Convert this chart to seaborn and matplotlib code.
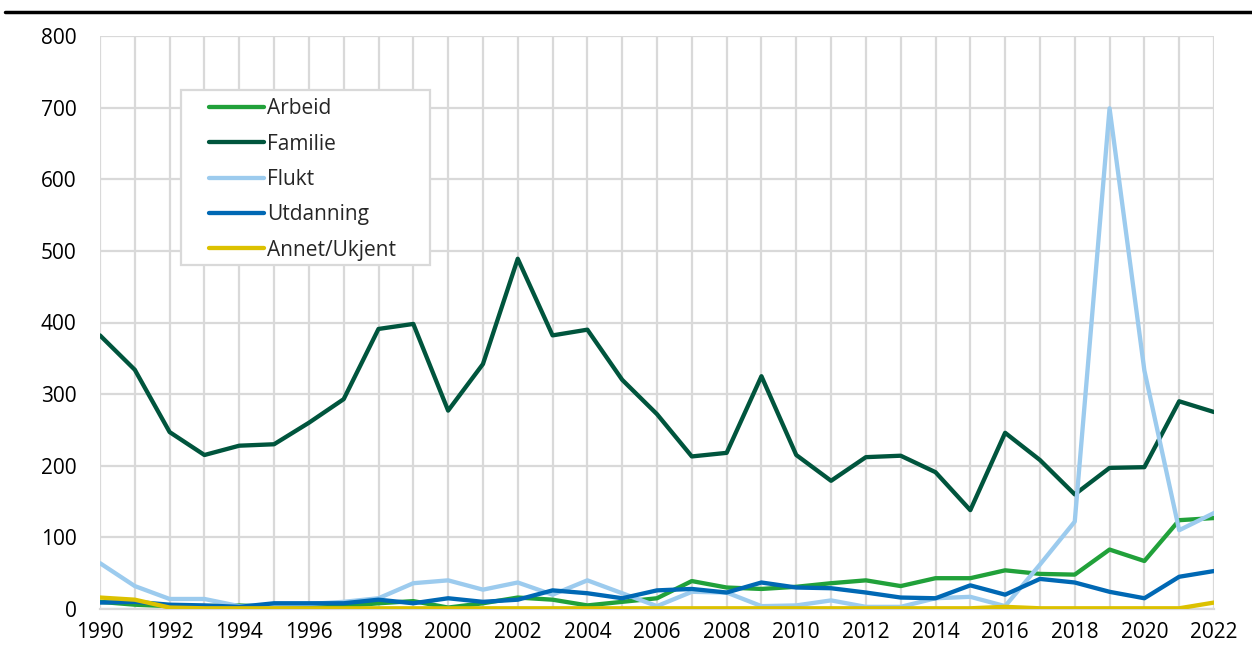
import numpy as np
import pandas as pd
import matplotlib
matplotlib.use("Agg")
import matplotlib.pyplot as plt
from matplotlib.patches import Rectangle
import seaborn as sns

years = list(range(1990, 2023))

arbeid = [10, 6, 4, 4, 5, 3, 2, 4, 8, 11, 2, 8, 16, 13, 5, 10, 15, 39, 30, 28, 31, 36, 40, 32, 43, 43, 54, 49, 48, 83, 67, 124, 127]
familie = [382, 334, 247, 215, 228, 230, 260, 293, 391, 398, 277, 342, 489, 382, 390, 320, 272, 213, 218, 325, 215, 179, 212, 214, 191, 138, 246, 208, 160, 197, 198, 290, 275]
flukt = [64, 32, 14, 14, 4, 6, 7, 10, 15, 36, 40, 27, 37, 20, 40, 22, 4, 24, 23, 4, 5, 12, 3, 3, 15, 17, 4, 62, 122, 699, 333, 110, 134]
utdanning = [9, 10, 6, 5, 3, 8, 8, 8, 13, 8, 15, 10, 13, 26, 22, 15, 26, 28, 23, 37, 30, 29, 23, 16, 15, 33, 20, 42, 37, 24, 15, 45, 53]
annet = [16, 13, 2, 1, 1, 1, 1, 1, 1, 1, 1, 1, 1, 1, 1, 1, 1, 1, 1, 1, 1, 1, 1, 1, 1, 1, 3, 1, 1, 1, 1, 1, 9]

series_names = ["Arbeid", "Familie", "Flukt", "Utdanning", "Annet/Ukjent"]
series_values = [arbeid, familie, flukt, utdanning, annet]
colors = ["#21a13a", "#00553d", "#9ccbee", "#0068b4", "#dcc100"]

y_ticks = [0, 100, 200, 300, 400, 500, 600, 700, 800]
x_ticks = list(range(1990, 2023, 2))

rows = []
for name, vals in zip(series_names, series_values):
    for yr, v in zip(years, vals):
        rows.append({"År": yr, "Antall": v, "Grunn": name})
df = pd.DataFrame(rows)

sns.set_theme(style="white")
plt.rcParams["font.family"] = ["Open Sans", "DejaVu Sans"]

W, H = 1252, 653
fig = plt.figure(figsize=(W / 100, H / 100), dpi=100)
ax = fig.add_axes([100 / W, 1 - 609 / H, 1114 / W, 573 / H])

sns.lineplot(data=df, x="År", y="Antall", hue="Grunn", hue_order=series_names,
             palette=colors, linewidth=3.1, ax=ax, legend=True, zorder=3)

ax.set_xlim(1990, 2022)
ax.set_ylim(0, 800)
ax.set_xticks(x_ticks)
ax.set_xticks(years, minor=True)
ax.set_yticks(y_ticks)
ax.set_xlabel("")
ax.set_ylabel("")
ax.grid(True, which="both", axis="x", color="#d9d9d9", linewidth=1.6, zorder=0)
ax.grid(True, which="major", axis="y", color="#d9d9d9", linewidth=1.6, zorder=0)
ax.set_axisbelow(True)
for s in ax.spines.values():
    s.set_visible(False)
ax.spines["bottom"].set_visible(True)
ax.spines["bottom"].set_color("#d9d9d9")
ax.spines["bottom"].set_linewidth(1.6)
ax.tick_params(axis="both", which="both", length=0, labelsize=15, colors="black")
ax.tick_params(axis="x", pad=9)
ax.tick_params(axis="y", pad=17)

# legend frame
ax.add_patch(Rectangle((181 / W, 1 - 265 / H), 249 / W, 175 / H, transform=fig.transFigure,
                       facecolor="white", edgecolor="#d9d9d9", linewidth=1.6, zorder=4,
                       clip_on=False))

leg = ax.legend(loc="upper left", bbox_to_anchor=(209 / W, 1 - 98.5 / H),
                bbox_transform=fig.transFigure,
                borderaxespad=0, borderpad=0, frameon=False, fontsize=15,
                handlelength=2.65, handletextpad=0.15, labelspacing=0.685)
for line in leg.get_lines():
    line.set_linewidth(3.1)
leg.set_zorder(5)

fig.add_artist(plt.Line2D([5 / W, 1.0], [1 - 12 / H, 1 - 12 / H],
                          color="black", linewidth=2.5, transform=fig.transFigure))

fig.savefig("out.png", dpi=100)
